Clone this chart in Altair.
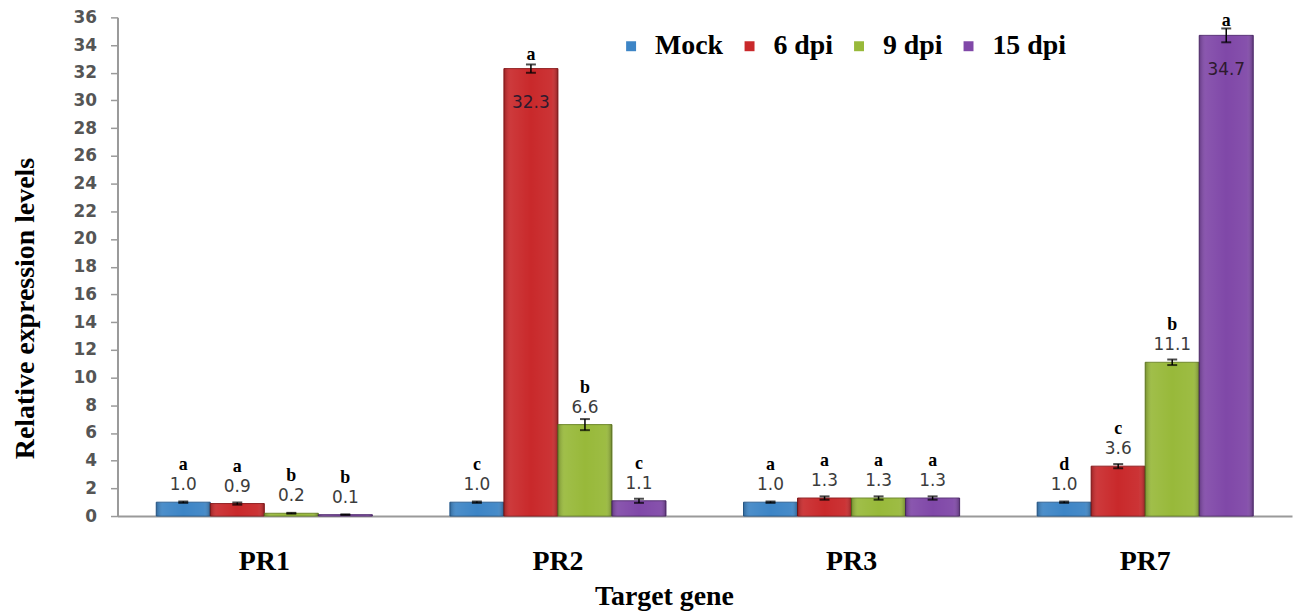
import altair as alt
import pandas as pd

genes = ["PR1", "PR2", "PR3", "PR7"]
series = ["Mock", "6 dpi", "9 dpi", "15 dpi"]
values = {
    "Mock":   [1.0, 1.0, 1.0, 1.0],
    "6 dpi":  [0.9, 32.3, 1.3, 3.6],
    "9 dpi":  [0.2, 6.6, 1.3, 11.1],
    "15 dpi": [0.1, 1.1, 1.3, 34.7],
}
errors = {
    "Mock":   [0.05, 0.05, 0.05, 0.05],
    "6 dpi":  [0.08, 0.3, 0.12, 0.15],
    "9 dpi":  [0.03, 0.4, 0.12, 0.2],
    "15 dpi": [0.02, 0.15, 0.12, 0.5],
}
letters = {
    "Mock":   ["a", "c", "a", "d"],
    "6 dpi":  ["a", "a", "a", "c"],
    "9 dpi":  ["b", "b", "a", "b"],
    "15 dpi": ["b", "c", "a", "a"],
}
y_ticks = list(range(0, 37, 2))
colors = ["#3d85c6", "#c9292b", "#98b93a", "#8048a8"]
dark = ["#2a5f92", "#8e1a1c", "#6c8628", "#573075"]

rows = []
for s in series:
    for i, g in enumerate(genes):
        rows.append({"gene": g, "series": s, "value": values[s][i],
                     "err": errors[s][i], "letter": letters[s][i]})
df = pd.DataFrame(rows)

x = alt.X("gene:N", sort=genes,
          scale=alt.Scale(paddingInner=0.264, paddingOuter=0.132),
          axis=alt.Axis(title="Target gene", labelAngle=0, ticks=False,
                        labelFont="Liberation Serif", labelFontWeight="bold",
                        labelFontSize=28, labelColor="black", labelPadding=32,
                        domainColor="#9a9a9a", domainWidth=2,
                        titleFont="Liberation Serif", titleFontWeight="bold",
                        titleFontSize=28, titleColor="black",
                        titleX=549, titleY=89, titleBaseline="alphabetic",
                        titleAlign="center"))
xo = alt.XOffset("series:N", sort=series, scale=alt.Scale(paddingInner=0, paddingOuter=0))
y_scale = alt.Scale(domain=[0, 36], nice=False)
y_axis = alt.Axis(title="Relative expression levels", values=y_ticks,
                  labelOverlap=False,
                  grid=False, tickSize=7, tickColor="#9a9a9a", tickWidth=1.5,
                  domainColor="#9a9a9a", domainWidth=2,
                  labelFont="DejaVu Sans", labelFontSize=17, labelFontWeight="bold",
                  labelColor="#555555", labelPadding=14,
                  titleFont="Liberation Serif", titleFontWeight="bold",
                  titleFontSize=28, titleColor="black", titleAngle=270,
                  titleX=-92, titleY=292, titleAlign="center",
                  titleBaseline="middle")


def Y(field):
    return alt.Y(field, scale=y_scale, axis=y_axis)


base = alt.Chart(df)

bars = base.mark_bar(strokeWidth=1).encode(
    x=x, xOffset=xo, y=Y("value:Q"),
    color=alt.Color("series:N", sort=series,
                    scale=alt.Scale(domain=series, range=colors),
                    legend=alt.Legend(title=None, orient="none", direction="horizontal",
                                      legendX=502, legendY=15, padding=0,
                                      symbolType="square", symbolSize=100,
                                      symbolStrokeWidth=0, labelOffset=10,
                                      columnPadding=12,
                                      labelFont="Liberation Serif", labelFontWeight="bold",
                                      labelFontSize=28, labelColor="black")),
    stroke=alt.Stroke("series:N", sort=series,
                      scale=alt.Scale(domain=series, range=dark), legend=None),
)

shade = base.mark_bar(color=alt.Gradient(
    gradient="linear", x1=0, x2=1, y1=0, y2=0,
    stops=[alt.GradientStop(offset=0, color="rgba(0,0,0,0.22)"),
           alt.GradientStop(offset=0.12, color="rgba(255,255,255,0.08)"),
           alt.GradientStop(offset=0.5, color="rgba(255,255,255,0.0)"),
           alt.GradientStop(offset=0.88, color="rgba(255,255,255,0.05)"),
           alt.GradientStop(offset=1, color="rgba(0,0,0,0.28)")])).encode(
    x=x, xOffset=xo, y=Y("value:Q"))

eb = base.transform_calculate(lo="datum.value - datum.err", hi="datum.value + datum.err")
stem = eb.mark_rule(color="black", strokeWidth=1.5).encode(
    x=x, xOffset=xo, y=Y("lo:Q"), y2="hi:Q")
cap_hi = eb.mark_tick(color="black", thickness=2, size=10).encode(x=x, xOffset=xo, y=Y("hi:Q"))
cap_lo = eb.mark_tick(color="black", thickness=2, size=10).encode(x=x, xOffset=xo, y=Y("lo:Q"))

outside = base.transform_filter("datum.value <= 30")
inside = base.transform_filter("datum.value > 30")

val_out = outside.mark_text(font="DejaVu Sans", fontSize=17, color="#3c3c3c",
                            baseline="alphabetic", dy=-12).encode(
    x=x, xOffset=xo, y=Y("value:Q"), text=alt.Text("value:Q", format=".1f"))
let_out = outside.mark_text(font="Liberation Serif", fontWeight="bold", fontSize=18,
                            color="black", baseline="alphabetic", dy=-32).encode(
    x=x, xOffset=xo, y=Y("value:Q"), text="letter:N")
val_in = inside.mark_text(font="DejaVu Sans", fontSize=17, color="#2e1a2e",
                          baseline="alphabetic", dy=40).encode(
    x=x, xOffset=xo, y=Y("value:Q"), text=alt.Text("value:Q", format=".1f"))
let_in = inside.mark_text(font="Liberation Serif", fontWeight="bold", fontSize=18,
                          color="black", baseline="alphabetic", dy=-9).encode(
    x=x, xOffset=xo, y=Y("value:Q"), text="letter:N")

chart = alt.layer(bars, shade, stem, cap_hi, cap_lo, val_out, let_out, val_in, let_in).properties(
    width=1180, height=501,
    autosize=alt.AutoSizeParams(type="none"),
    padding={"left": 110, "top": 8, "right": 3, "bottom": 96},
).configure_view(stroke=None).configure_axisY(labelOverlap=False)

chart.save("out.html", embed_options={"renderer": "svg", "actions": False})
